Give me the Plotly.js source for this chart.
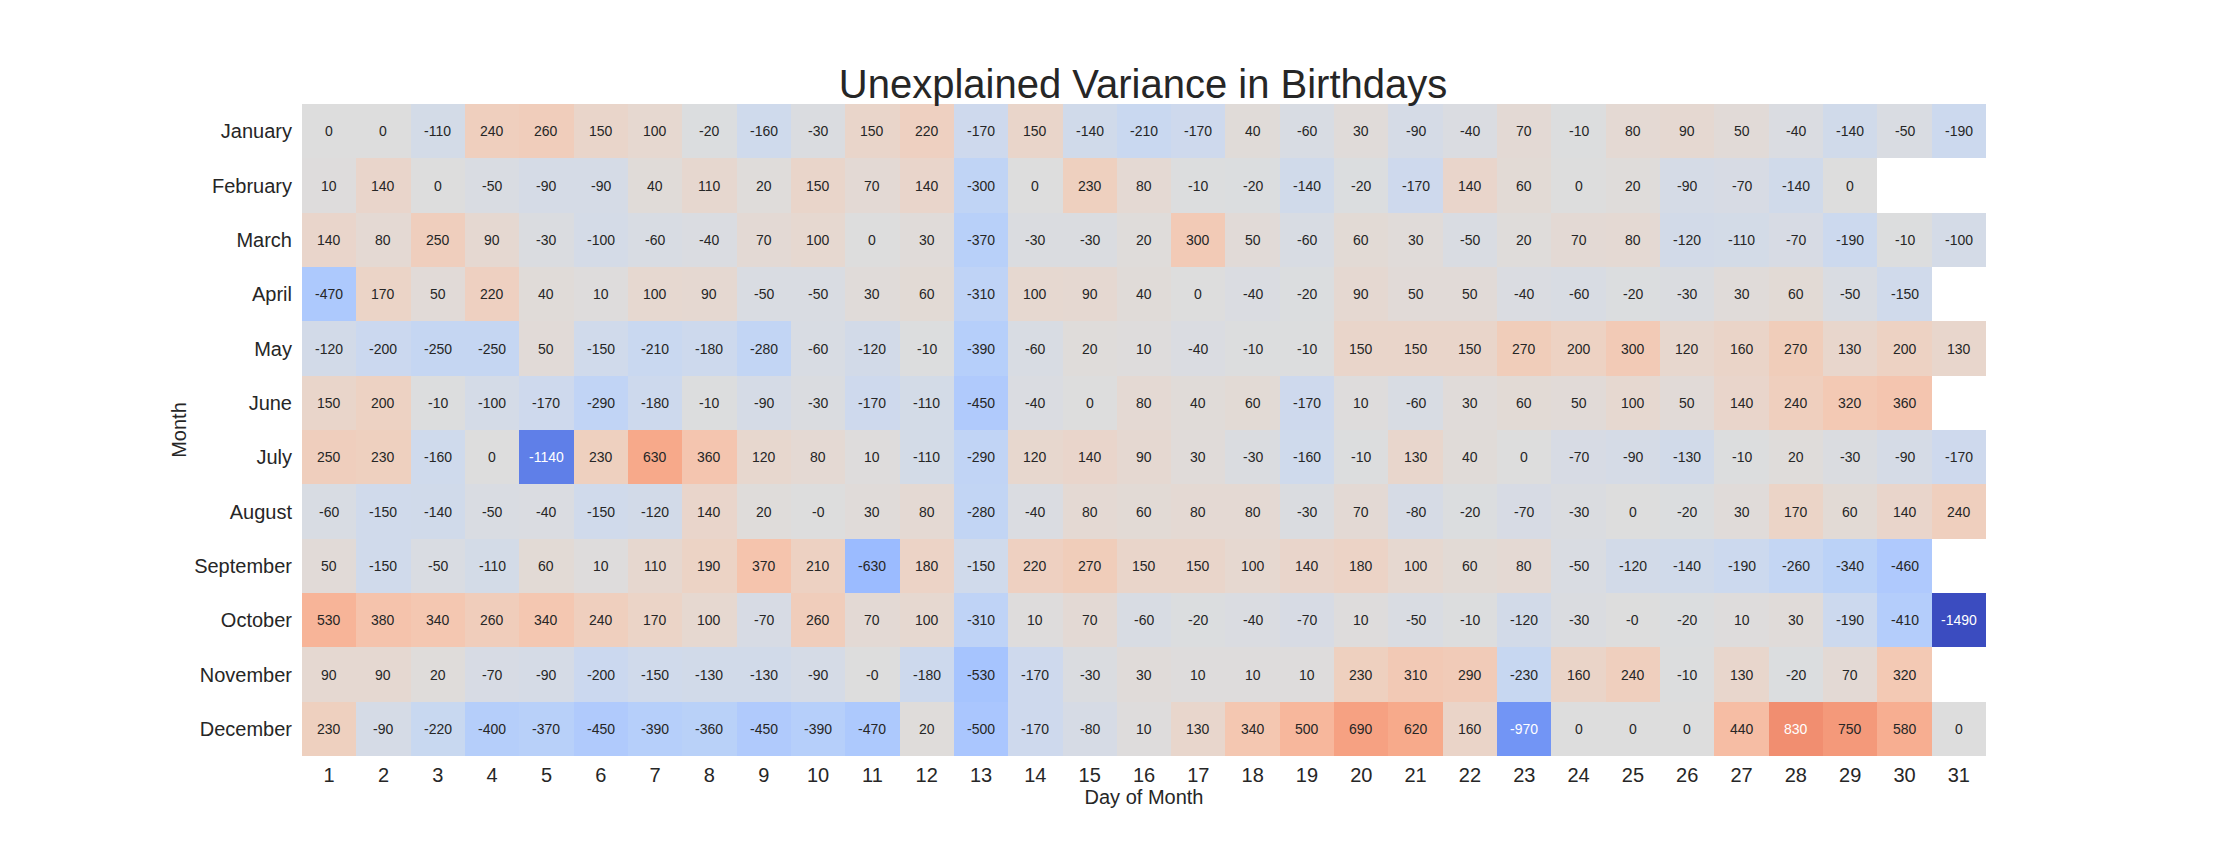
<!DOCTYPE html>
<html>
<head>
<meta charset="utf-8">
<script src="https://cdn.plot.ly/plotly-3.0.1.min.js"></script>
<style>html,body{margin:0;padding:0;background:#fff;}#chart{width:2232px;height:864px;}</style>
</head>
<body>
<div id="chart"></div>
<script>
const months = ['January','February','March','April','May','June','July','August','September','October','November','December'];
const days = [1,2,3,4,5,6,7,8,9,10,11,12,13,14,15,16,17,18,19,20,21,22,23,24,25,26,27,28,29,30,31];

const january   = [0,0,-110,240,260,150,100,-20,-160,-30,150,220,-170,150,-140,-210,-170,40,-60,30,-90,-40,70,-10,80,90,50,-40,-140,-50,-190];
const february  = [10,140,0,-50,-90,-90,40,110,20,150,70,140,-300,0,230,80,-10,-20,-140,-20,-170,140,60,0,20,-90,-70,-140,0,null,null];
const march     = [140,80,250,90,-30,-100,-60,-40,70,100,0,30,-370,-30,-30,20,300,50,-60,60,30,-50,20,70,80,-120,-110,-70,-190,-10,-100];
const april     = [-470,170,50,220,40,10,100,90,-50,-50,30,60,-310,100,90,40,0,-40,-20,90,50,50,-40,-60,-20,-30,30,60,-50,-150,null];
const may       = [-120,-200,-250,-250,50,-150,-210,-180,-280,-60,-120,-10,-390,-60,20,10,-40,-10,-10,150,150,150,270,200,300,120,160,270,130,200,130];
const june      = [150,200,-10,-100,-170,-290,-180,-10,-90,-30,-170,-110,-450,-40,0,80,40,60,-170,10,-60,30,60,50,100,50,140,240,320,360,null];
const july      = [250,230,-160,0,-1140,230,630,360,120,80,10,-110,-290,120,140,90,30,-30,-160,-10,130,40,0,-70,-90,-130,-10,20,-30,-90,-170];
const august    = [-60,-150,-140,-50,-40,-150,-120,140,20,-0,30,80,-280,-40,80,60,80,80,-30,70,-80,-20,-70,-30,0,-20,30,170,60,140,240];
const september = [50,-150,-50,-110,60,10,110,190,370,210,-630,180,-150,220,270,150,150,100,140,180,100,60,80,-50,-120,-140,-190,-260,-340,-460,null];
const october   = [530,380,340,260,340,240,170,100,-70,260,70,100,-310,10,70,-60,-20,-40,-70,10,-50,-10,-120,-30,-0,-20,10,30,-190,-410,-1490];
const november  = [90,90,20,-70,-90,-200,-150,-130,-130,-90,-0,-180,-530,-170,-30,30,10,10,10,230,310,290,-230,160,240,-10,130,-20,70,320,null];
const december  = [230,-90,-220,-400,-370,-450,-390,-360,-450,-390,-470,20,-500,-170,-80,10,130,340,500,690,620,160,-970,0,0,0,440,830,750,580,0];

const z = [january,february,march,april,may,june,july,august,september,october,november,december];

// matplotlib "coolwarm" (Moreland) reference colours
const cw = [[59,76,192],[68,90,204],[77,104,215],[87,117,225],[98,130,234],[108,142,241],[119,154,247],[130,165,251],[141,176,254],[152,185,255],[163,194,255],[174,201,253],[184,208,249],[194,213,244],[204,217,238],[213,219,230],[221,221,221],[229,216,209],[236,211,197],[241,204,185],[245,196,173],[247,187,160],[247,177,148],[247,166,135],[244,154,123],[241,141,111],[236,127,99],[229,112,88],[222,96,77],[213,80,66],[203,62,56],[192,40,47],[180,4,38]];
const colorscale = cw.map((c,i)=>[i/(cw.length-1), 'rgb('+c.join(',')+')']);

const zmax = 1490, zmin = -1490;
function colorAt(v){
  let t = (v - zmin)/(zmax - zmin);
  t = Math.max(0, Math.min(1, t));
  const p = t*(cw.length-1);
  const i = Math.min(Math.floor(p), cw.length-2);
  const f = p - i;
  return [0,1,2].map(k => cw[i][k] + (cw[i+1][k]-cw[i][k])*f);
}
function lum(rgb){
  const l = rgb.map(c => { c/=255; return c <= 0.03928 ? c/12.92 : Math.pow((c+0.055)/1.055, 2.4); });
  return 0.2126*l[0] + 0.7152*l[1] + 0.0722*l[2];
}
function fmt(v){ return Object.is(v,-0) ? '-0' : String(v); }

const annotations = [];
z.forEach((row, r) => {
  row.forEach((v, c) => {
    if (v === null) return;
    annotations.push({
      x: days[c], y: months[r], xref: 'x', yref: 'y',
      text: fmt(v), showarrow: false,
      font: {family: 'Liberation Sans, Arial, sans-serif', size: 14, color: lum(colorAt(v)) < 0.408 ? '#ffffff' : '#262626'}
    });
  });
});

const trace = {
  type: 'heatmap', x: days, y: months, z: z,
  colorscale: colorscale, zmin: zmin, zmax: zmax, showscale: false,
  hoverongaps: false, xgap: 0, ygap: 0
};

const layout = {
  width: 2232, height: 864,
  margin: {l: 302, r: 246, t: 104, b: 108, pad: 0},
  paper_bgcolor: '#ffffff', plot_bgcolor: '#ffffff',
  font: {family: 'Liberation Sans, Arial, sans-serif', color: '#262626', size: 20},
  title: {text: 'Unexplained Variance in Birthdays', font: {size: 40, color: '#262626'}, x: 0.5121, xanchor: 'center', y: 1 - 84/864, yanchor: 'middle', yref: 'container'},
  xaxis: {range: [0.5, 31.5], tickvals: days, ticktext: days.map(String), ticks: '', showgrid: false, zeroline: false, showline: false,
          tickfont: {size: 20, color: '#262626'}, ticklabelstandoff: 5,
          title: {text: 'Day of Month', font: {size: 20, color: '#262626'}, standoff: 3}},
  yaxis: {type: 'category', autorange: 'reversed', ticks: '', showgrid: false, zeroline: false, showline: false,
          tickfont: {size: 20, color: '#262626'}, ticklabelstandoff: 9,
          title: {text: 'Month', font: {size: 20, color: '#262626'}, standoff: 2}},
  annotations: annotations
};

Plotly.newPlot('chart', [trace], layout, {displayModeBar: false, staticPlot: true});
</script>
</body>
</html>
